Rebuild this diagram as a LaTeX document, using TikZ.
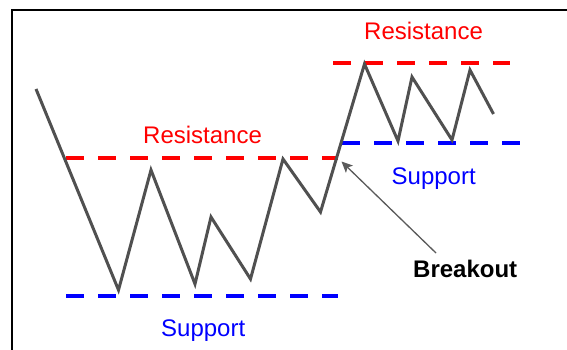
\documentclass[tikz,border=0pt]{standalone}
\usepackage{fontspec}
\setmainfont{Liberation Sans}
\usepackage{tikz}
\usetikzlibrary{arrows.meta}

\definecolor{pricegray}{HTML}{505050}
\definecolor{arrowgray}{HTML}{5A5A5A}

\begin{document}
\begin{tikzpicture}[
    x=1pt, y=-1pt,
    price/.style={draw=pricegray, line width=3pt, line join=miter},
    resline/.style={draw=red, line width=4pt, dash pattern=on 18pt off 14pt},
    supline/.style={draw=blue, line width=4pt, dash pattern=on 18pt off 14pt},
    lbl/.style={anchor=base west, inner sep=0pt, font=\fontsize{24}{28}\selectfont},
    arrow/.style={-{Stealth[length=11pt, width=10pt, inset=2.5pt]}, draw=arrowgray, fill=arrowgray, line width=1.3pt}
]
    \useasboundingbox (0,0) rectangle (567,350);

    % frame
    \draw[line width=1.8pt] (12,350) -- (12,10) -- (567,10);

    % first range
    \draw[resline] (66,157.5) -- (338,157.5);
    \draw[supline] (66,296) -- (338,296);

    % second range
    \draw[resline] (333,63.5) -- (510,63.5);
    \draw[supline] (342,143) -- (520,143);

    % price path
    \draw[price] (36,89) -- (118.5,290) -- (151,170) -- (195,284) -- (211,217)
        -- (250.5,279) -- (283,159) -- (320.5,212) -- (364.5,64) -- (398,141)
        -- (412,77) -- (452,140) -- (470,70) -- (493.5,114);

    % labels
    \node[lbl, text=red] (res-top) at (364,40) {Resistance};
    \node[lbl, text=red] (res-mid) at (143,143) {Resistance};
    \node[lbl, text=blue] (sup-right) at (391.5,184) {Support};
    \node[lbl, text=blue] (sup-bot) at (161,336.5) {Support};
    \node[lbl, font=\fontsize{24}{28}\selectfont\bfseries] (breakout) at (413,277.5) {Breakout};

    % breakout pointer
    \coordinate (brk) at (341.5,161.5);
    \coordinate (brk-tail) at (436,253);
    \draw[arrow] (brk-tail) -- (brk);
\end{tikzpicture}
\end{document}
